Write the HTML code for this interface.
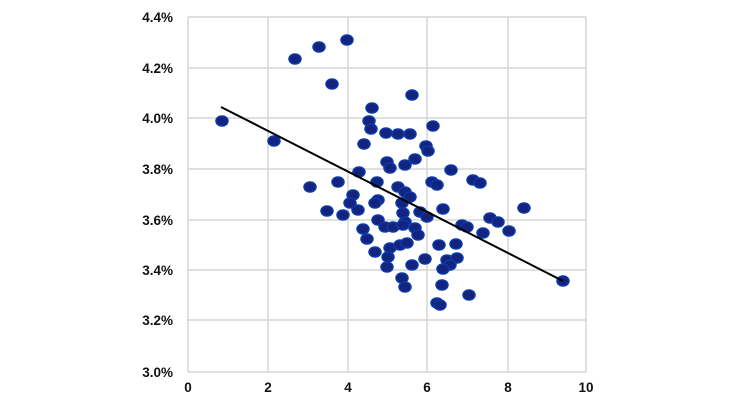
<!DOCTYPE html>
<html><head><style>body{margin:0;background:#fff}svg{display:block}</style></head><body>
<svg width="730" height="410" xmlns="http://www.w3.org/2000/svg" font-family="Liberation Sans, Arial, sans-serif" font-weight="bold" font-size="13.5">
<rect width="730" height="410" fill="#fff"/>
<g stroke="#d6d6d6" stroke-width="1.5" fill="none">
<line x1="188" y1="17" x2="586" y2="17"/><line x1="188" y1="68" x2="586" y2="68"/><line x1="188" y1="118" x2="586" y2="118"/><line x1="188" y1="169" x2="586" y2="169"/><line x1="188" y1="220" x2="586" y2="220"/><line x1="188" y1="270" x2="586" y2="270"/><line x1="188" y1="320" x2="586" y2="320"/><line x1="188" y1="372" x2="586" y2="372"/>
<line x1="188" y1="17" x2="188" y2="372"/><line x1="268" y1="17" x2="268" y2="372"/><line x1="348" y1="17" x2="348" y2="372"/><line x1="427" y1="17" x2="427" y2="372"/><line x1="508" y1="17" x2="508" y2="372"/><line x1="586" y1="17" x2="586" y2="372"/>
</g>
<g text-anchor="end" fill="#111">
<text x="173" y="22">4.4%</text><text x="173" y="73">4.2%</text><text x="173" y="123">4.0%</text><text x="173" y="174">3.8%</text><text x="173" y="225">3.6%</text><text x="173" y="275">3.4%</text><text x="173" y="325">3.2%</text><text x="173" y="377">3.0%</text>
</g>
<g text-anchor="middle" fill="#111">
<text x="188" y="392">0</text><text x="268" y="392">2</text><text x="348" y="392">4</text><text x="427" y="392">6</text><text x="508" y="392">8</text><text x="586" y="392">10</text>
</g>
<g fill="#13237e" stroke="#0b3aa8" stroke-width="1.5">
<ellipse cx="222" cy="121" rx="6" ry="5"/><ellipse cx="274" cy="141" rx="6" ry="5"/><ellipse cx="295" cy="59" rx="6" ry="5"/><ellipse cx="319" cy="47" rx="6" ry="5"/><ellipse cx="347" cy="40" rx="6" ry="5"/><ellipse cx="332" cy="84" rx="6" ry="5"/><ellipse cx="412" cy="95" rx="6" ry="5"/><ellipse cx="372" cy="108" rx="6" ry="5"/><ellipse cx="369" cy="121" rx="6" ry="5"/><ellipse cx="371" cy="129" rx="6" ry="5"/><ellipse cx="386" cy="133" rx="6" ry="5"/><ellipse cx="398" cy="134" rx="6" ry="5"/><ellipse cx="410" cy="134" rx="6" ry="5"/><ellipse cx="433" cy="126" rx="6" ry="5"/><ellipse cx="364" cy="144" rx="6" ry="5"/><ellipse cx="426" cy="146" rx="6" ry="5"/><ellipse cx="428" cy="151" rx="6" ry="5"/>
<ellipse cx="310" cy="187" rx="6" ry="5"/><ellipse cx="338" cy="182" rx="6" ry="5"/><ellipse cx="359" cy="172" rx="6" ry="5"/><ellipse cx="377" cy="182" rx="6" ry="5"/><ellipse cx="387" cy="162" rx="6" ry="5"/><ellipse cx="390" cy="168" rx="6" ry="5"/><ellipse cx="405" cy="165" rx="6" ry="5"/><ellipse cx="415" cy="159" rx="6" ry="5"/><ellipse cx="451" cy="170" rx="6" ry="5"/><ellipse cx="432" cy="182" rx="6" ry="5"/><ellipse cx="437" cy="185" rx="6" ry="5"/><ellipse cx="473" cy="180" rx="6" ry="5"/><ellipse cx="480" cy="183" rx="6" ry="5"/><ellipse cx="327" cy="211" rx="6" ry="5"/><ellipse cx="343" cy="215" rx="6" ry="5"/><ellipse cx="353" cy="195" rx="6" ry="5"/><ellipse cx="350" cy="203" rx="6" ry="5"/><ellipse cx="358" cy="210" rx="6" ry="5"/><ellipse cx="378" cy="200" rx="6" ry="5"/><ellipse cx="375" cy="203" rx="6" ry="5"/><ellipse cx="398" cy="187" rx="6" ry="5"/><ellipse cx="405" cy="192" rx="6" ry="5"/><ellipse cx="410" cy="197" rx="6" ry="5"/><ellipse cx="402" cy="203" rx="6" ry="5"/><ellipse cx="403" cy="213" rx="6" ry="5"/><ellipse cx="405" cy="222" rx="6" ry="5"/><ellipse cx="420" cy="212" rx="6" ry="5"/><ellipse cx="427" cy="217" rx="6" ry="5"/><ellipse cx="443" cy="209" rx="6" ry="5"/><ellipse cx="378" cy="220" rx="6" ry="5"/><ellipse cx="385" cy="227" rx="6" ry="5"/><ellipse cx="393" cy="227" rx="6" ry="5"/><ellipse cx="403" cy="225" rx="6" ry="5"/><ellipse cx="415" cy="228" rx="6" ry="5"/><ellipse cx="418" cy="235" rx="6" ry="5"/><ellipse cx="363" cy="229" rx="6" ry="5"/><ellipse cx="367" cy="239" rx="6" ry="5"/><ellipse cx="462" cy="225" rx="6" ry="5"/><ellipse cx="467" cy="227" rx="6" ry="5"/><ellipse cx="483" cy="233" rx="6" ry="5"/><ellipse cx="375" cy="252" rx="6" ry="5"/><ellipse cx="390" cy="248" rx="6" ry="5"/><ellipse cx="400" cy="245" rx="6" ry="5"/><ellipse cx="407" cy="243" rx="6" ry="5"/><ellipse cx="388" cy="257" rx="6" ry="5"/><ellipse cx="387" cy="267" rx="6" ry="5"/><ellipse cx="412" cy="265" rx="6" ry="5"/><ellipse cx="425" cy="259" rx="6" ry="5"/><ellipse cx="439" cy="245" rx="6" ry="5"/><ellipse cx="456" cy="244" rx="6" ry="5"/><ellipse cx="447" cy="260" rx="6" ry="5"/><ellipse cx="457" cy="258" rx="6" ry="5"/><ellipse cx="450" cy="265" rx="6" ry="5"/><ellipse cx="443" cy="269" rx="6" ry="5"/><ellipse cx="402" cy="278" rx="6" ry="5"/><ellipse cx="405" cy="287" rx="6" ry="5"/><ellipse cx="442" cy="285" rx="6" ry="5"/><ellipse cx="469" cy="295" rx="6" ry="5"/><ellipse cx="437" cy="303" rx="6" ry="5"/><ellipse cx="440" cy="305" rx="6" ry="5"/><ellipse cx="524" cy="208" rx="6" ry="5"/><ellipse cx="490" cy="218" rx="6" ry="5"/><ellipse cx="498" cy="222" rx="6" ry="5"/><ellipse cx="509" cy="231" rx="6" ry="5"/><ellipse cx="563" cy="281" rx="6" ry="5"/>
</g>
<line x1="221" y1="107" x2="563" y2="281" stroke="#000" stroke-width="2"/>
</svg>
</body></html>
